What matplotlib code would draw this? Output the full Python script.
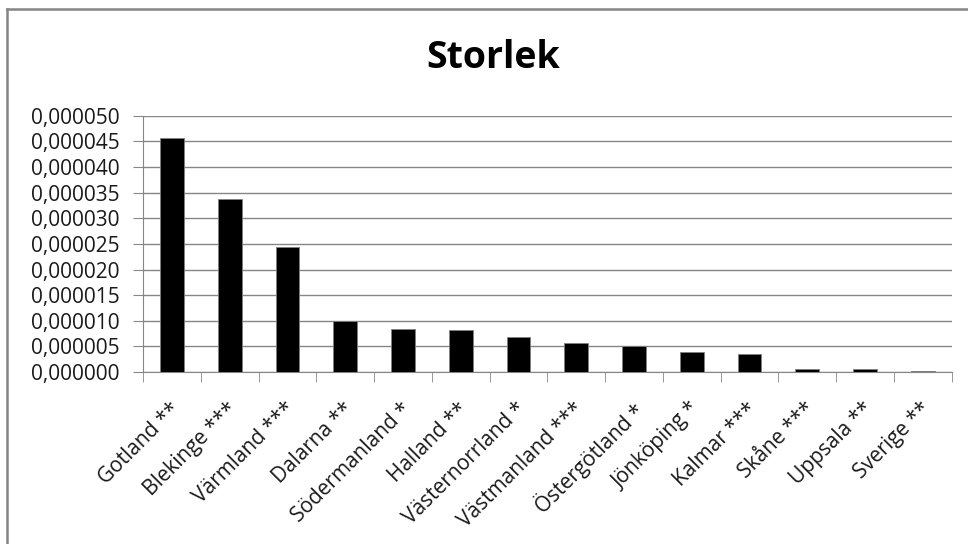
import matplotlib
matplotlib.use("Agg")
import matplotlib.pyplot as plt
import matplotlib.ticker as mticker
import matplotlib.transforms as mtransforms
from matplotlib.lines import Line2D
import numpy as np

# ─── Data ────────────────────────────────────────────────────────────────────
categories = ["Gotland **", "Blekinge ***", "Värmland ***", "Dalarna **",
              "Södermanland *", "Halland **", "Västernorrland *", "Västmanland ***",
              "Östergötland *", "Jönköping *", "Kalmar ***", "Skåne ***",
              "Uppsala **", "Sverige **"]
values = [0.0000456, 0.0000337, 0.0000245, 0.0000099, 0.0000085, 0.0000083,
          0.0000068, 0.0000057, 0.0000051, 0.0000040, 0.0000035, 0.0000007,
          0.0000007, 0.0000003]
yticks = np.arange(0, 0.0000501, 0.000005)

plt.rcParams["font.family"] = ["Open Sans", "DejaVu Sans"]

fig = plt.figure(figsize=(9.68, 5.44), dpi=100)
ax = fig.add_axes([0.148, 0.316, 0.835, 0.471])

x = np.arange(len(categories))
ax.bar(x, values, width=0.41, color="black", edgecolor="#808080",
       linewidth=0.6, zorder=3)

ax.set_xlim(-0.5, len(categories) - 0.5)
ax.set_ylim(0, 0.00005)
ax.set_yticks(yticks)
ax.yaxis.set_major_formatter(
    mticker.FuncFormatter(lambda v, p: f"{v:.6f}".replace(".", ",")))
ax.grid(axis="y", color="#868686", linewidth=1.0, zorder=0)
ax.tick_params(axis="y", length=7, color="#868686", labelsize=15, pad=10,
               labelcolor="#1a1a1a")

# rótulos centrados, marcas nos limites das categorias
ax.set_xticks(x)
ax.set_xticklabels(categories, rotation=45, ha="right", rotation_mode="anchor",
                   fontsize=15, color="#1a1a1a")
ax.tick_params(axis="x", length=0, pad=19)
shift = mtransforms.ScaledTranslation(-3 / 100, 0, fig.dpi_scale_trans)
for lbl in ax.get_xticklabels():
    lbl.set_transform(lbl.get_transform() + shift)
ax.set_xticks(np.arange(-0.5, len(categories)), minor=True)
ax.tick_params(axis="x", which="minor", length=7, color="#868686")

for side in ["top", "right"]:
    ax.spines[side].set_visible(False)
for side in ["left", "bottom"]:
    ax.spines[side].set_color("#868686")

fig.text(0.509, 0.893, "Storlek", ha="center", va="center", fontsize=27,
         fontweight="bold")

# borda do gráfico (só topo e esquerda visíveis)
fig.lines.append(Line2D([0.0072, 0.0072], [0, 0.984], transform=fig.transFigure,
                        color="#858585", linewidth=1.8))
fig.lines.append(Line2D([0.0072, 1.0], [0.984, 0.984], transform=fig.transFigure,
                        color="#858585", linewidth=1.8))

fig.savefig("out.png", dpi=100)
